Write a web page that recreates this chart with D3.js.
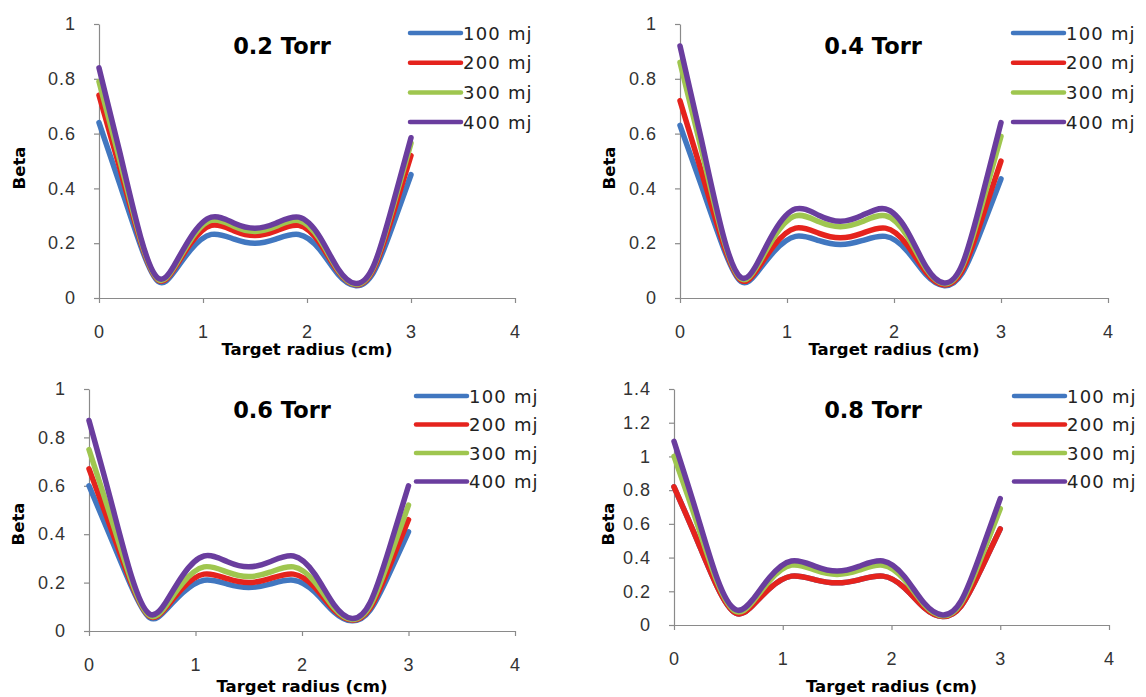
<!DOCTYPE html>
<html>
<head>
<meta charset="utf-8">
<script src="https://cdn.jsdelivr.net/npm/d3@7"></script>
<style>
  body { margin: 0; background: #fff; }
  svg { display: block; font-family: "DejaVu Sans", sans-serif; }
</style>
</head>
<body>
<script>
// radius samples (cm)
var radius = [0, 0.2, 0.4, 0.57, 0.72, 0.88, 1.08, 1.3, 1.5, 1.7, 1.92, 2.12, 2.3, 2.47, 2.64, 2.82, 3];

// legend names
var energies = ['100 mj', '200 mj', '300 mj', '400 mj'];

// beta values, one row per energy
var torr02 = [
    [0.64, 0.416, 0.191, 0.06, 0.094, 0.175, 0.232, 0.215, 0.2, 0.215, 0.232, 0.178, 0.086, 0.045, 0.094, 0.26, 0.45],
    [0.74, 0.474, 0.206, 0.065, 0.105, 0.198, 0.265, 0.245, 0.228, 0.245, 0.265, 0.202, 0.096, 0.048, 0.105, 0.298, 0.52],
    [0.79, 0.503, 0.214, 0.068, 0.111, 0.211, 0.283, 0.261, 0.243, 0.261, 0.283, 0.215, 0.101, 0.05, 0.112, 0.323, 0.565],
    [0.84, 0.532, 0.223, 0.072, 0.117, 0.221, 0.295, 0.273, 0.255, 0.273, 0.295, 0.225, 0.106, 0.053, 0.117, 0.335, 0.585]
];
var torr04 = [
    [0.63, 0.41, 0.189, 0.06, 0.093, 0.17, 0.225, 0.209, 0.195, 0.209, 0.225, 0.173, 0.085, 0.045, 0.092, 0.252, 0.435],
    [0.72, 0.462, 0.204, 0.065, 0.103, 0.192, 0.255, 0.236, 0.22, 0.236, 0.255, 0.195, 0.094, 0.048, 0.102, 0.288, 0.5],
    [0.86, 0.543, 0.224, 0.07, 0.116, 0.223, 0.3, 0.278, 0.26, 0.278, 0.3, 0.228, 0.107, 0.052, 0.117, 0.337, 0.59],
    [0.92, 0.578, 0.235, 0.075, 0.125, 0.242, 0.325, 0.301, 0.28, 0.301, 0.325, 0.247, 0.114, 0.055, 0.125, 0.365, 0.64]
];
var torr06 = [
    [0.6, 0.391, 0.182, 0.055, 0.086, 0.158, 0.21, 0.194, 0.18, 0.194, 0.21, 0.161, 0.079, 0.042, 0.086, 0.237, 0.41],
    [0.67, 0.432, 0.194, 0.06, 0.095, 0.177, 0.235, 0.216, 0.2, 0.216, 0.235, 0.18, 0.087, 0.045, 0.095, 0.265, 0.46],
    [0.75, 0.478, 0.205, 0.063, 0.103, 0.198, 0.265, 0.243, 0.225, 0.243, 0.265, 0.202, 0.096, 0.048, 0.105, 0.298, 0.52],
    [0.87, 0.548, 0.225, 0.07, 0.118, 0.23, 0.31, 0.286, 0.265, 0.286, 0.31, 0.235, 0.109, 0.052, 0.118, 0.342, 0.6]
];
var torr08 = [
    [0.82, 0.523, 0.224, 0.07, 0.114, 0.217, 0.29, 0.268, 0.25, 0.268, 0.29, 0.22, 0.103, 0.05, 0.112, 0.326, 0.57],
    [0.82, 0.523, 0.224, 0.07, 0.114, 0.217, 0.29, 0.268, 0.25, 0.268, 0.29, 0.22, 0.103, 0.05, 0.112, 0.326, 0.57],
    [1.0, 0.627, 0.252, 0.08, 0.135, 0.263, 0.355, 0.325, 0.3, 0.325, 0.355, 0.268, 0.121, 0.055, 0.131, 0.392, 0.69],
    [1.09, 0.682, 0.271, 0.09, 0.148, 0.283, 0.38, 0.348, 0.32, 0.348, 0.38, 0.287, 0.13, 0.06, 0.143, 0.426, 0.75]
];

// tick labels
var xTicks = [0, 1, 2, 3, 4];
var yTicksLow = [0, 0.2, 0.4, 0.6, 0.8, 1];
var yTicksHigh = [0, 0.2, 0.4, 0.6, 0.8, 1, 1.2, 1.4];

var colors = ['#4177c0', '#e5231d', '#9fc64f', '#6a3d9e'];

// panel layout
var panels = [
    { title: '0.2 Torr', data: torr02, yTicks: yTicksLow,  x0: 99,  x1: 515,  top: 24,  bottom: 298, titleX: 282, titleY: 46,  legX: 410,  legY: 33,  legStep: 29.7, betaX: 19,  betaY: 168, axisTitleY: 355 },
    { title: '0.4 Torr', data: torr04, yTicks: yTicksLow,  x0: 680, x1: 1108, top: 24,  bottom: 298, titleX: 873, titleY: 46,  legX: 1013, legY: 33,  legStep: 29.7, betaX: 609, betaY: 168, axisTitleY: 355 },
    { title: '0.6 Torr', data: torr06, yTicks: yTicksLow,  x0: 89,  x1: 515,  top: 389, bottom: 631, titleX: 282, titleY: 410, legX: 416,  legY: 396, legStep: 28.5, betaX: 18,  betaY: 524, axisTitleY: 692 },
    { title: '0.8 Torr', data: torr08, yTicks: yTicksHigh, x0: 674, x1: 1109, top: 389, bottom: 625, titleX: 873, titleY: 410, legX: 1014, legY: 396, legStep: 28.5, betaX: 608, betaY: 524, axisTitleY: 692 }
];

var svg = d3.select('body').append('svg')
    .attr('width', 1146)
    .attr('height', 697);

var axisColor = '#8a8a8a',
    tickText = '#333';

/**
 * draw one panel
 */
function drawPanel(p) {
    var x = d3.scaleLinear().domain([0, 4]).range([p.x0, p.x1]);
    var y = d3.scaleLinear().domain([0, d3.max(p.yTicks)]).range([p.bottom, p.top]);
    var g = svg.append('g');

    // axes
    var yAxis = g.append('g')
        .attr('transform', 'translate(' + p.x0 + ',0)')
        .call(d3.axisLeft(y).tickValues(p.yTicks).tickSize(5).tickSizeOuter(0).tickPadding(18)
            .tickFormat(function(d) { return String(+d.toFixed(1)); }));
    var xAxis = g.append('g')
        .attr('transform', 'translate(0,' + p.bottom + ')')
        .call(d3.axisBottom(x).tickValues(xTicks).tickSize(5).tickSizeOuter(0).tickPadding(22)
            .tickFormat(d3.format('d')));

    [xAxis, yAxis].forEach(function(a) {
        a.select('.domain').attr('stroke', axisColor).attr('stroke-width', 1.2);
        a.selectAll('.tick line').attr('stroke', axisColor).attr('stroke-width', 1.2);
        a.selectAll('.tick text')
            .attr('fill', tickText)
            .style('font-size', '18px')
            .style('letter-spacing', '1px');
    });

    // curves
    var line = d3.line()
        .x(function(d) { return x(d[0]); })
        .y(function(d) { return y(d[1]); })
        .curve(d3.curveNatural);

    p.data.forEach(function(row, i) {
        g.append('path')
            .attr('d', line(d3.zip(radius, row)))
            .attr('fill', 'none')
            .attr('stroke', colors[i])
            .attr('stroke-width', 5.5)
            .attr('stroke-linejoin', 'round')
            .attr('stroke-linecap', 'round');
    });

    // title
    g.append('text')
        .attr('x', p.titleX)
        .attr('y', p.titleY)
        .attr('text-anchor', 'middle')
        .attr('dominant-baseline', 'central')
        .style('font-size', '22.5px')
        .style('font-weight', 'bold')
        .text(p.title);

    // axis titles
    g.append('text')
        .attr('x', (p.x0 + p.x1) / 2)
        .attr('y', p.axisTitleY)
        .attr('text-anchor', 'middle')
        .style('font-size', '16.5px')
        .style('font-weight', 'bold')
        .text('Target radius (cm)');

    g.append('text')
        .attr('transform', 'translate(' + p.betaX + ',' + p.betaY + ') rotate(-90)')
        .attr('text-anchor', 'middle')
        .attr('dominant-baseline', 'central')
        .style('font-size', '16.5px')
        .style('font-weight', 'bold')
        .text('Beta');

    // legend
    var leg = g.selectAll('.legend').data(energies).enter()
        .append('g')
        .attr('transform', function(d, i) { return 'translate(' + p.legX + ',' + (p.legY + i * p.legStep) + ')'; });
    leg.append('line')
        .attr('x1', 0).attr('x2', 51)
        .attr('stroke', function(d, i) { return colors[i]; })
        .attr('stroke-width', 4.5)
        .attr('stroke-linecap', 'round');
    leg.append('text')
        .attr('x', 53)
        .attr('dominant-baseline', 'central')
        .attr('fill', '#222')
        .style('font-size', '18px')
        .style('letter-spacing', '1.2px')
        .text(function(d) { return d; });
}

panels.forEach(drawPanel);
</script>
</body>
</html>
